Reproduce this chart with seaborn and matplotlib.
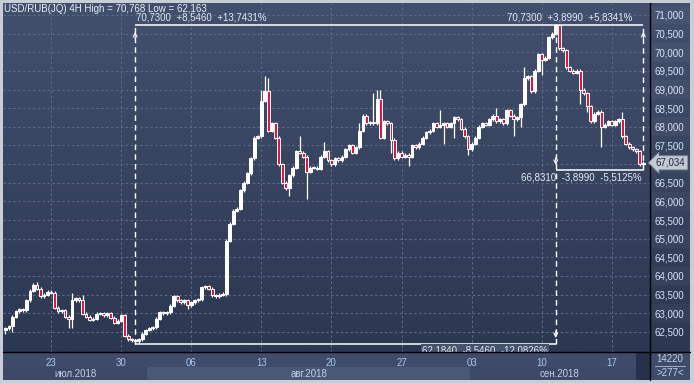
import numpy as np
import pandas as pd
import matplotlib
matplotlib.use("Agg")
import matplotlib.pyplot as plt
import seaborn as sns
from matplotlib.colors import LinearSegmentedColormap
from matplotlib.lines import Line2D

# USD/RUB 4H closes (bar 0 = 17 Jul late, bar 182 = 19 Sep)
closes = [
    62.60, 62.65, 62.90, 63.05, 63.10, 63.08, 63.35, 63.60, 63.75, 63.65,
    63.45, 63.50, 63.58, 63.55, 63.15, 63.05, 63.08, 62.90, 62.85, 63.35,
    63.40, 63.35, 62.98, 62.90, 62.82, 62.85, 62.98, 63.00, 62.95, 63.00,
    62.88, 62.75, 62.80, 62.95, 62.40, 62.30, 62.28, 62.25, 62.30, 62.45,
    62.55, 62.60, 62.62, 62.85, 63.02, 63.00, 63.02, 63.20, 63.45, 63.35,
    63.30, 63.35, 63.22, 63.30, 63.35, 63.38, 63.70, 63.72, 63.65, 63.48,
    63.45, 63.50, 63.52, 64.95, 65.40, 65.75, 65.80, 66.30, 66.50, 66.75,
    67.15, 67.70, 67.75, 68.70, 68.95, 67.90, 68.10, 67.70, 67.00, 66.50,
    66.35, 66.70, 66.90, 67.35, 67.30, 67.20, 66.80, 66.90, 66.90, 66.88,
    67.20, 67.35, 67.10, 67.00, 67.15, 67.10, 67.20, 67.40, 67.50, 67.30,
    67.45, 67.90, 68.30, 68.10, 68.12, 68.10, 68.75, 67.70, 68.15, 68.10,
    67.65, 67.15, 67.30, 67.20, 67.25, 67.20, 67.50, 67.45, 67.55, 67.70,
    67.85, 67.90, 68.10, 68.00, 68.05, 68.10, 68.00, 68.10, 68.25, 68.20,
    67.95, 67.75, 67.40, 67.55, 67.70, 68.00, 68.10, 68.05, 68.20, 68.30,
    68.15, 68.20, 68.10, 68.45, 68.30, 68.20, 68.25, 68.60, 69.30, 69.35,
    68.95, 69.50, 69.95, 69.80, 69.85, 70.40, 70.50, 70.73, 70.10, 70.05,
    69.60, 69.50, 69.45, 69.50, 69.00, 68.90, 68.55, 68.15, 68.35, 68.40,
    68.00, 68.05, 68.15, 68.05, 68.15, 68.20, 67.75, 67.55, 67.45, 67.40,
    67.35, 67.00, 67.034,
]
first_open = 62.55

# wicks that stick out clearly (bar index -> price)
wick_highs = {8: 63.82, 9: 63.85, 19: 63.55, 22: 63.50, 73: 69.0, 74: 69.35,
              75: 69.30, 84: 67.75, 91: 67.60, 101: 68.10, 105: 68.90,
              106: 69.0, 107: 69.0, 124: 68.45, 140: 68.50, 148: 69.60,
              157: 70.768, 176: 68.40}
wick_lows = {0: 62.45, 2: 62.50, 18: 62.60, 19: 62.60, 37: 62.163, 52: 63.10,
             63: 63.45, 80: 66.30, 81: 66.15, 86: 66.06, 110: 67.30,
             115: 66.95, 125: 67.55, 128: 67.70, 132: 67.25, 145: 67.75,
             147: 68.0, 153: 69.40, 164: 68.60, 166: 68.40, 170: 67.45}
wick_pad = 0.04

day_ticks = [13, 33, 53, 73, 93, 113, 133, 153, 173]
day_labels = ['23', '30', '06', '13', '20', '27', '03', '10', '17']
month_edges = [-0.7, 40.5, 132.5, 183.9]
month_labels = ['июл.2018', 'авг.2018', 'сен.2018']
y_ticks = [62.5, 63.0, 63.5, 64.0, 64.5, 65.0, 65.5, 66.0, 66.5,
           67.0, 67.5, 68.0, 68.5, 69.0, 69.5, 70.0, 70.5, 71.0]

# measuring tool lines
low_idx, top_idx, last_idx = 37, 157, 182
low_px, top_px, end_px = 62.184, 70.73, 66.831
last_price = 67.034

XLIM = (-0.7, 183.9)
YLIM = (61.96, 71.32)

df = pd.DataFrame({'close': closes})
df['open'] = df['close'].shift(1).fillna(first_open)
df['high'] = df[['open', 'close']].max(axis=1) + wick_pad
df['low'] = df[['open', 'close']].min(axis=1) - wick_pad
for k, v in wick_highs.items():
    df.loc[k, 'high'] = v
for k, v in wick_lows.items():
    df.loc[k, 'low'] = v
up = df['close'] >= df['open']

sns.set_theme(style="dark", rc={'axes.facecolor': '#3a4764'})
plt.rcParams['font.family'] = ['Liberation Sans', 'DejaVu Sans']

W, H = 694, 383


def px_box(l, t, r, b):
    return [l / W, 1 - b / H, (r - l) / W, (b - t) / H]


fig = plt.figure(figsize=(W / 100, H / 100), dpi=100, facecolor='#c9cdd5')
bg = LinearSegmentedColormap.from_list('bg', ['#42506e', '#2c3751'])
grad = np.linspace(0, 1, 256).reshape(-1, 1)

# right price panel (added first so the main tick labels sit on top)
axr = fig.add_axes(px_box(650, 3, 690, 352))
axr.imshow(grad, cmap=bg, extent=[0, 1, YLIM[0], YLIM[1]], aspect='auto')
for k, v in enumerate(y_ticks):
    if k % 2:
        axr.axhspan(v - 0.25, v + 0.25, color='white', alpha=0.03, lw=0)
axr.set_xlim(0, 1)
axr.set_ylim(*YLIM)
axr.set_xticks([])
axr.set_yticks([])
for s in axr.spines.values():
    s.set_visible(False)

# bottom date panel
axb = fig.add_axes(px_box(3, 352, 650, 380))
axb.set_facecolor('#3e4b69')
axb.set_xlim(*XLIM)
axb.set_ylim(0, 2)
month_colors = ['#3c4866', '#4a5775', '#3c4866']
for (a, b), lab, c in zip(zip(month_edges[:-1], month_edges[1:]), month_labels, month_colors):
    axb.fill_between([a, b], 0, 0.95, color=c, lw=0)
    axb.text((a + b) / 2, 0.45, lab, ha='center', va='center', fontsize=7,
             color='#c3d0e3')
axb.axvspan(179.9, 183.9, color='#25304a', lw=0)
axb.set_xticks([])
axb.set_yticks([])
for s in axb.spines.values():
    s.set_visible(False)

# bottom-right counter box
axc = fig.add_axes(px_box(650, 352, 690, 380))
axc.set_facecolor('#3e4b69')
axc.set_xlim(0, 1)
axc.set_ylim(0, 1)
axc.text(0.5, 0.74, '14220', ha='center', va='center', fontsize=7, color='#c3d0e3')
axc.text(0.5, 0.26, '>277<', ha='center', va='center', fontsize=7, color='#c3d0e3')
axc.plot([0.12, 0.88], [0.5, 0.5], color='#9fb0c8', lw=0.7)
axc.set_xticks([])
axc.set_yticks([])
for s in axc.spines.values():
    s.set_visible(False)

# main chart
ax = fig.add_axes(px_box(3, 3, 650, 352))
ax.imshow(grad, cmap=bg, extent=[XLIM[0], XLIM[1], YLIM[0], YLIM[1]],
          aspect='auto', zorder=0)
ax.set_axisbelow(True)
ax.grid(True, color='#5b6987', linestyle=(0, (2.2, 2.2)), linewidth=0.8)

ax.vlines(df.index, df['low'], df['high'], color='white', lw=0.9, zorder=3)
body = df['close'] - df['open']
body = body.mask(body.abs() < 0.015, 0.015)
ax.bar(df.index, body, bottom=df['open'], width=0.8,
       color=np.where(up, 'white', '#e0173f'), edgecolor='white',
       linewidth=0.7, zorder=4)

# measuring tool
ax.hlines(top_px, low_idx, last_idx, color='white', lw=1.1, zorder=5)
ax.hlines(low_px, low_idx, top_idx, color='white', lw=1.1, zorder=5)
ax.hlines(end_px, top_idx, last_idx, color='white', lw=1.1, zorder=5)
for xi, y0 in [(low_idx, low_px), (top_idx, low_px), (last_idx, end_px)]:
    ax.vlines(xi, y0, top_px, color='white', lw=1.0,
              linestyles=(0, (4, 3)), zorder=5)
arrow = dict(arrowstyle='->', color='white', lw=0.8, mutation_scale=7)
ax.annotate('', xy=(low_idx, 70.62), xytext=(low_idx, 70.3), arrowprops=arrow, zorder=6)
ax.annotate('', xy=(last_idx, 70.62), xytext=(last_idx, 70.3), arrowprops=arrow, zorder=6)
ax.annotate('', xy=(top_idx, 62.26), xytext=(top_idx, 62.6), arrowprops=arrow, zorder=6)
ax.annotate('', xy=(top_idx, 66.9), xytext=(top_idx, 67.25), arrowprops=arrow, zorder=6)

txt = dict(fontsize=7, color='#e2e9f4', va='center', zorder=7)
ax.text(low_idx + 0.3, 70.93, '70,7300  +8,5460  +13,7431%', ha='left', **txt)
ax.text(179.0, 70.93, '70,7300  +3,8990  +5,8341%', ha='right', **txt)
ax.text(181.6, 66.63, '66,8310  -3,8990  -5,5125%', ha='right', **txt)
# cut off by the date scale, as in the terminal
ax.text(154.8, 62.01, '62,1840  -8,5460  -12,0826%', ha='right', clip_on=True,
        bbox=dict(boxstyle='square,pad=0.15', fc='#46536f', ec='none'), **txt)

ax.set_xlim(*XLIM)
ax.set_ylim(*YLIM)
ax.set_xticks(day_ticks)
ax.set_xticklabels(day_labels)
ax.yaxis.tick_right()
ax.set_yticks(y_ticks)
# 67,000 sits under the last-price tag
ax.set_yticklabels(['' if v == 67.0 else f"{v:.3f}".replace('.', ',') for v in y_ticks])
ax.tick_params(axis='y', length=0, pad=3, labelsize=7, labelcolor='#d6e2f4')
ax.tick_params(axis='x', length=0, pad=4, labelsize=7, labelcolor='#a9c6ea')
for s in ax.spines.values():
    s.set_visible(False)

# black separators between chart, price scale and date scale
fig.add_artist(Line2D([650 / W, 650 / W], [1 - 3 / H, 1 - 380 / H],
                      color='black', lw=1.0))
fig.add_artist(Line2D([3 / W, 690 / W], [1 - 352 / H, 1 - 352 / H],
                      color='black', lw=1.0))

# header and last-price tag
fig.text(4 / W, 1 - 9 / H, 'USD/RUB(JQ) 4H High = 70,768 Low = 62,163',
         ha='left', va='center', fontsize=7, color='#e8eef8')
tag_y = ax.transData.transform((0, last_price))[1] / fig.dpi / (H / 100)
fig.text(656 / W, tag_y, '67,034', ha='left', va='center', fontsize=7,
         color='#1b2a47', zorder=10,
         bbox=dict(boxstyle='larrow,pad=0.2', fc='#c4c9d2', ec='#8a93a6', lw=0.6))

fig.savefig('out.png', dpi=100, facecolor=fig.get_facecolor())
